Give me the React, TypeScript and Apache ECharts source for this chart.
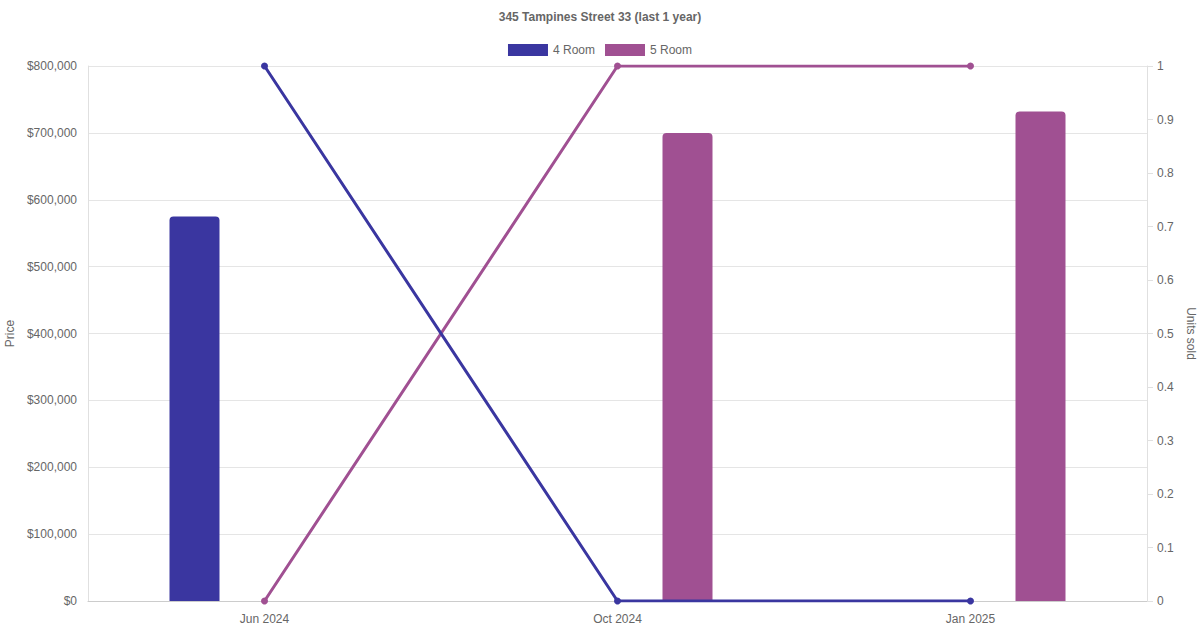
import React, { useEffect, useRef } from 'react';
import * as echarts from 'echarts';

const months = ['Jun 2024', 'Oct 2024', 'Jan 2025'];
const price4Room: (number | null)[] = [575000, null, null];
const price5Room: (number | null)[] = [null, 700000, 732000];
const units4Room = [1, 0, 0];
const units5Room = [0, 1, 1];

const COLOR_4 = '#3A36A0';
const COLOR_5 = '#A05092';
const FONT = '"Liberation Sans", Arial, Helvetica, sans-serif';

const App: React.FC = () => {
  const chartRef = useRef<HTMLDivElement>(null);

  useEffect(() => {
    document.body.style.margin = '0';
    if (!chartRef.current) return;
    const chart = echarts.init(chartRef.current, undefined, { renderer: 'svg' });

    const option: echarts.EChartsOption = {
      animation: false,
      textStyle: { fontFamily: FONT },
      title: {
        text: '345 Tampines Street 33 (last 1 year)',
        left: 'center',
        top: 6,
        textStyle: { fontSize: 12, fontWeight: 'bold', color: '#666', fontFamily: FONT },
      },
      legend: {
        top: 39,
        left: 'center',
        itemWidth: 40,
        itemHeight: 12,
        itemGap: 10,
        icon: 'rect',
        data: [
          { name: '4 Room', itemStyle: { color: COLOR_4 } },
          { name: '5 Room', itemStyle: { color: COLOR_5 } },
        ],
        textStyle: { fontSize: 12, color: '#666', fontFamily: FONT },
      },
      grid: {
        left: 88,
        right: 53,
        top: 66,
        bottom: 29,
        containLabel: false,
        outerBoundsMode: 'none',
      } as any,
      xAxis: {
        type: 'category',
        data: months,
        axisLine: { show: true, lineStyle: { color: '#cccccc' } },
        axisTick: { show: false },
        axisLabel: { color: '#666', fontSize: 12, margin: 12, fontFamily: FONT },
        splitLine: { show: false },
      },
      yAxis: [
        {
          type: 'value',
          min: 0,
          max: 800000,
          interval: 100000,
          name: 'Price',
          nameLocation: 'middle',
          nameGap: 70,
          nameTextStyle: { color: '#666', fontSize: 12, fontFamily: FONT },
          axisLine: { show: true, lineStyle: { color: '#e0e0e0' } },
          axisTick: { show: false },
          axisLabel: {
            color: '#666',
            fontSize: 12,
            margin: 11,
            fontFamily: FONT,
            formatter: (v: number) => '$' + v.toLocaleString('en-US'),
          },
          splitLine: { show: true, lineStyle: { color: '#e5e5e5' } },
        },
        {
          type: 'value',
          min: 0,
          max: 1,
          interval: 0.1,
          position: 'right',
          name: 'Units sold',
          nameLocation: 'middle',
          nameGap: 35,
          nameRotate: -90,
          nameTextStyle: { color: '#666', fontSize: 12, fontFamily: FONT },
          axisLine: { show: true, lineStyle: { color: '#e0e0e0' } },
          axisTick: { show: true, length: 6, lineStyle: { color: '#e0e0e0' } },
          axisLabel: {
            color: '#666',
            fontSize: 12,
            margin: 10,
            fontFamily: FONT,
            formatter: (v: number) => String(Math.round(v * 10) / 10),
          },
          splitLine: { show: false },
        },
      ],
      series: [
        {
          name: '4 Room',
          type: 'bar',
          yAxisIndex: 0,
          data: price4Room,
          barWidth: 50,
          barGap: '180%',
          itemStyle: { color: COLOR_4, borderRadius: [4, 4, 0, 0] },
          z: 1,
        },
        {
          name: '5 Room',
          type: 'bar',
          yAxisIndex: 0,
          data: price5Room,
          barWidth: 50,
          barGap: '180%',
          itemStyle: { color: COLOR_5, borderRadius: [4, 4, 0, 0] },
          z: 1,
        },
        {
          name: '5 Room',
          type: 'line',
          yAxisIndex: 1,
          data: units5Room,
          symbol: 'circle',
          symbolSize: 7,
          lineStyle: { color: COLOR_5, width: 3 },
          itemStyle: { color: COLOR_5 },
          z: 3,
        },
        {
          name: '4 Room',
          type: 'line',
          yAxisIndex: 1,
          data: units4Room,
          symbol: 'circle',
          symbolSize: 7,
          lineStyle: { color: COLOR_4, width: 3 },
          itemStyle: { color: COLOR_4 },
          z: 4,
        },
      ],
    };

    chart.setOption(option);
    return () => {
      chart.dispose();
    };
  }, []);

  return <div ref={chartRef} style={{ width: 1200, height: 630 }} />;
};

export default App;
